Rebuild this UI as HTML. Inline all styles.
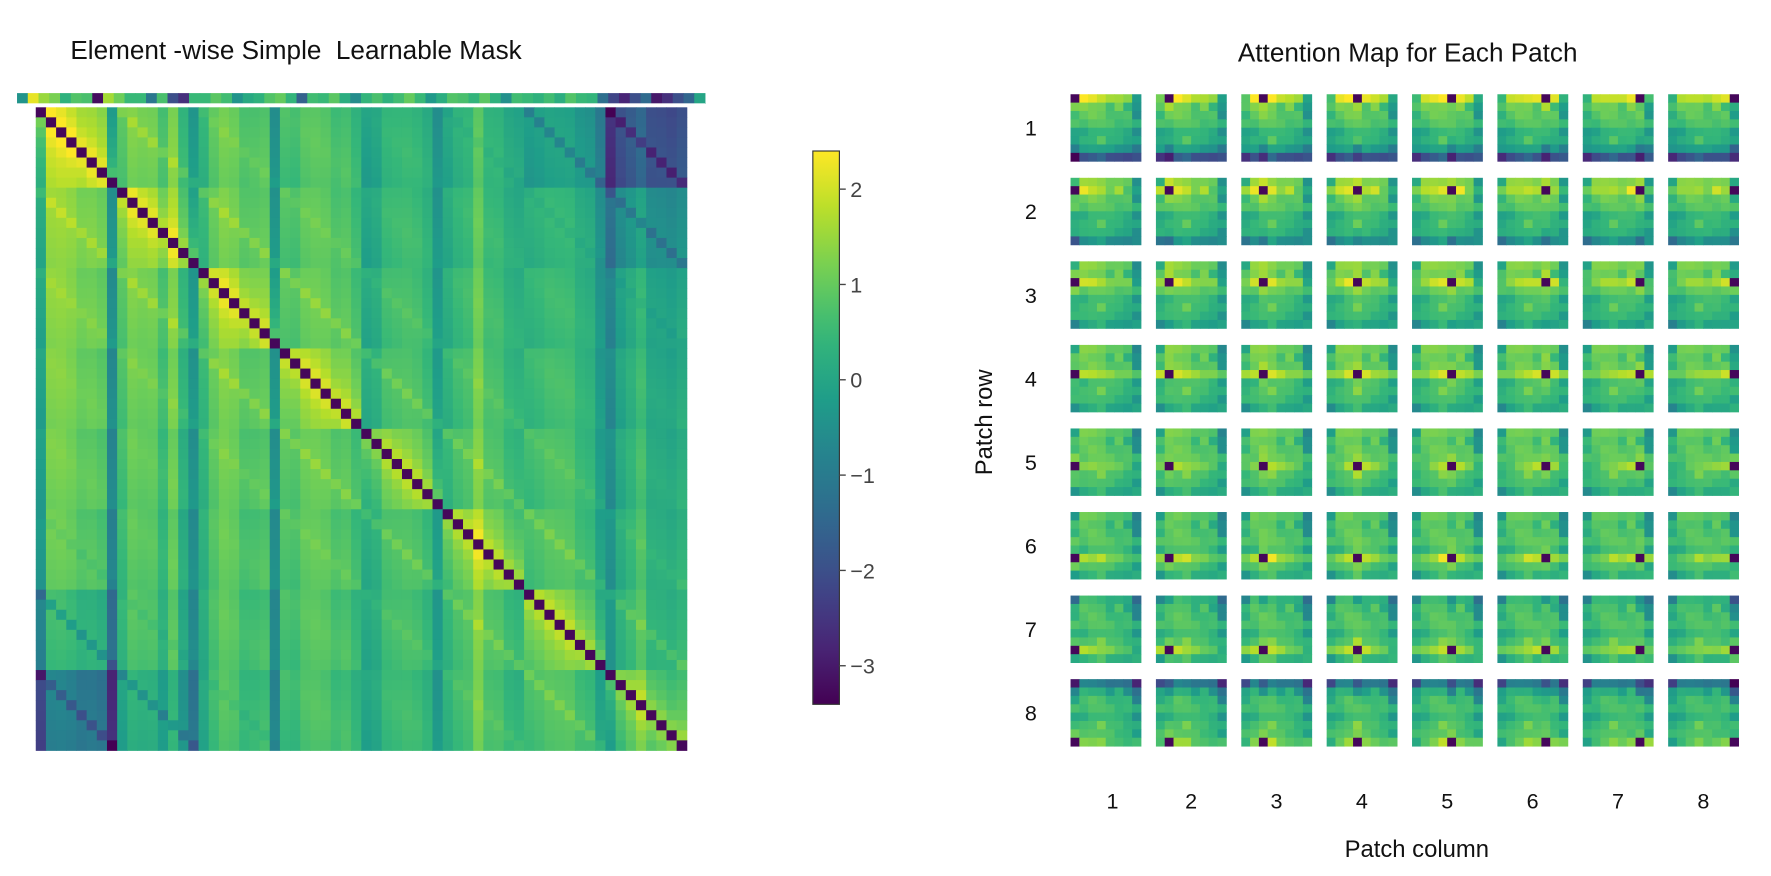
<!DOCTYPE html>
<html><head><meta charset="utf-8"><style>
html,body{margin:0;padding:0;background:#fff;width:1771px;height:876px;overflow:hidden}
svg{display:block}
text{font-family:"Liberation Sans",sans-serif}
</style></head><body>
<svg id="fig" width="1771" height="876" viewBox="0 0 1560 771.6" xmlns="http://www.w3.org/2000/svg">
<text x="62" y="52" font-size="23" fill="#111">Element -wise Simple&#160; Learnable Mask</text>
<text x="1240" y="54" font-size="23" fill="#111" text-anchor="middle">Attention Map for Each Patch</text>
<g id="strip"></g>
<rect x="15" y="91" width="606" height="3" fill="#fff"/>
<g id="left"></g>
<g id="cbar"></g>
<g id="right"></g>
<text transform="translate(874,372) rotate(-90)" font-size="21" text-anchor="middle" fill="#111">Patch row</text>
<text x="1248" y="755" font-size="21" text-anchor="middle" fill="#111">Patch column</text>
</svg>
<script>
// ---- data ----
const vmin = -3.4, vmax = 2.4;
const cbarTicks = [2, 1, 0, -1, -2, -3];
const cbarTickLabels = ["2", "1", "0", "\u22121", "\u22122", "\u22123"];
const rowLabels = ["1","2","3","4","5","6","7","8"];
const colLabels = ["1","2","3","4","5","6","7","8"];
// same-row offsets dc = -7..7 (dr = 0)
const kernelSameRow = [0.9,1.0,1.1,1.2,1.3,1.5,1.8,-3.3,1.8,1.5,1.3,1.2,1.1,1.0,0.9];
// same-column offsets dr = -7..7 (dc = 0)
const kernelSameCol = [-2.4,-0.8,0.3,0.6,0.7,0.9,1.2,-3.3,1.2,0.9,0.7,0.6,0.3,-0.8,-2.4];
// base by |dr| for other offsets
const baseByRowDist = [1.2,0.9,0.8,0.7,0.6,0.5,0.0,-1.4];
// target column bias
const colBias = [-0.4,0.1,0.2,0.2,0.2,0.2,0.1,-0.4];
// shared texture (8x8, target position)
const texture = [
 -0.5,1.2,1.0,0.8,0.4,0.5,0.5,-1.5,
 0.9,0.7,0.3,0.3,-0.6,0.6,-0.8,-1.2,
 0.2,0.2,0.5,0.3,-0.3,-0.2,0.2,-1.4,
 1.0,-0.2,0.1,0.2,0.1,-0.3,0.1,0.6,
 -0.4,-1.2,-0.6,-0.5,-0.4,-0.5,-0.7,-1.0,
 0.1,-0.4,-0.4,0.6,-0.4,-0.4,-0.7,0.2,
 0.6,-0.3,-0.3,-0.3,-0.3,-0.8,-0.7,-0.8,
 -1.4,-1.2,-0.9,-0.3,-1.3,-1.3,-1.2,0.2];
const stripValues = [-0.4,2.2,1.5,1.2,0.3,0.8,0.7,-3.2,1.6,1.1,0.5,0.5,-1.1,0.7,-2.0,-2.6,
 0.5,0.5,0.9,0.6,-0.4,0.1,0.3,0.8,1.0,0.4,-1.6,0.6,0.5,0.9,0.2,-0.6,
 0.4,0.7,0.3,0.6,1.0,0.5,-0.3,0.2,0.8,0.7,0.4,0.9,0.3,-0.5,0.6,0.5,
 0.3,0.6,0.2,0.8,0.5,0.4,-1.3,-2.2,-2.8,-2.0,-1.4,-3.0,-2.6,-2.0,-1.5,0.0];

// ---- helpers ----
const NS = "http://www.w3.org/2000/svg";
const VIR = [[68,1,84],[72,40,120],[62,74,137],[49,104,142],[38,130,142],[31,158,137],[53,183,121],[110,206,88],[181,222,43],[253,231,37]];
function viridis(v){
  let t = (v - vmin) / (vmax - vmin); t = Math.max(0, Math.min(1, t));
  const p = t * (VIR.length - 1), i = Math.min(VIR.length - 2, Math.floor(p)), f = p - i;
  const c = VIR[i].map((a, k) => Math.round(a + (VIR[i+1][k] - a) * f));
  return `rgb(${c[0]},${c[1]},${c[2]})`;
}
function maskValue(i, j){
  const ri = Math.floor(i/8), ci = i%8, rj = Math.floor(j/8), cj = j%8;
  const dr = rj - ri, dc = cj - ci;
  let v;
  if (dr === 0) v = kernelSameRow[dc+7];
  else if (dc === 0) v = kernelSameCol[dr+7];
  else v = baseByRowDist[Math.abs(dr)] - 0.04*Math.abs(dc);
  if (i === j) return v;
  return v + colBias[cj] + 0.5*texture[j];
}
function rect(g, x, y, w, h, fill){
  const r = document.createElementNS(NS, "rect");
  r.setAttribute("x", x); r.setAttribute("y", y);
  r.setAttribute("width", w + 0.4); r.setAttribute("height", h + 0.4);
  r.setAttribute("fill", fill);
  g.appendChild(r);
  return r;
}
function text(g, x, y, s, size, anchor, fill){
  const t = document.createElementNS(NS, "text");
  t.setAttribute("x", x); t.setAttribute("y", y);
  t.setAttribute("font-size", size); t.setAttribute("text-anchor", anchor);
  t.setAttribute("fill", fill); t.textContent = s;
  g.appendChild(t); return t;
}

// ---- top strip ----
const strip = document.getElementById("strip");
const sx0 = 15, sx1 = 621, sw = (sx1 - sx0) / stripValues.length;
stripValues.forEach((v, k) => {
  const r = rect(strip, sx0 + k*sw, 82, sw, 9, viridis(v));
  
  
});

// ---- left heatmap ----
const left = document.getElementById("left");
const lx0 = 31.5, ly0 = 94.5, lw = 605 - 31.5, lh = 661 - 94.5;
const cw = lw/64, ch = lh/64;
for (let i = 0; i < 64; i++) for (let j = 0; j < 64; j++) {
  const r = rect(left, lx0 + j*cw, ly0 + i*ch, cw, ch, viridis(maskValue(i, j)));
  
  
}

// ---- colorbar ----
const cb = document.getElementById("cbar");
const cbx = 716, cby0 = 133, cby1 = 620, cbw = 23;
const cbY = v => cby0 + (vmax - v) / (vmax - vmin) * (cby1 - cby0);
const defs = document.createElementNS(NS, "defs");
const grad = document.createElementNS(NS, "linearGradient");
grad.setAttribute("id", "vg"); grad.setAttribute("x1", "0"); grad.setAttribute("y1", "1");
grad.setAttribute("x2", "0"); grad.setAttribute("y2", "0");
for (let k = 0; k <= 20; k++) {
  const s = document.createElementNS(NS, "stop");
  s.setAttribute("offset", k/20);
  s.setAttribute("stop-color", viridis(vmin + (vmax - vmin)*k/20));
  grad.appendChild(s);
}
defs.appendChild(grad); cb.appendChild(defs);
const cbr = rect(cb, cbx, cby0, cbw, cby1 - cby0, "url(#vg)");
cbr.setAttribute("stroke", "#333"); cbr.setAttribute("stroke-width", "1");


cbarTicks.forEach((v, k) => {
  const y = cbY(v);
  const l = document.createElementNS(NS, "line");
  l.setAttribute("x1", cbx + cbw); l.setAttribute("x2", cbx + cbw + 6);
  l.setAttribute("y1", y); l.setAttribute("y2", y);
  l.setAttribute("stroke", "#444"); l.setAttribute("stroke-width", "1.2");
  
  
  cb.appendChild(l);
  const t = text(cb, cbx + cbw + 10, y + 7, cbarTickLabels[k], 19, "start", "#444");
  
  
});

// ---- right grid ----
const right = document.getElementById("right");
const tileX = c => 943 + c*75.2;
const tileY = r => 83 + r*73.6;
const tw = 62, th = 59;
for (let r = 0; r < 8; r++) for (let c = 0; c < 8; c++) {
  const g = document.createElementNS(NS, "g");
  
  
  right.appendChild(g);
  const i = r*8 + c;
  for (let a = 0; a < 8; a++) for (let b = 0; b < 8; b++) {
    rect(g, tileX(c) + b*tw/8, tileY(r) + a*th/8, tw/8, th/8, viridis(maskValue(i, a*8 + b)));
  }
}
rowLabels.forEach((s, r) => {
  const t = text(right, 908, tileY(r) + th/2 + 7, s, 19, "middle", "#111");
  
  
});
colLabels.forEach((s, c) => {
  const t = text(right, tileX(c) + tw/2 + (c === 0 ? 6 : 0), 712, s, 19, "middle", "#111");
  
  
});
</script>
</body></html>
